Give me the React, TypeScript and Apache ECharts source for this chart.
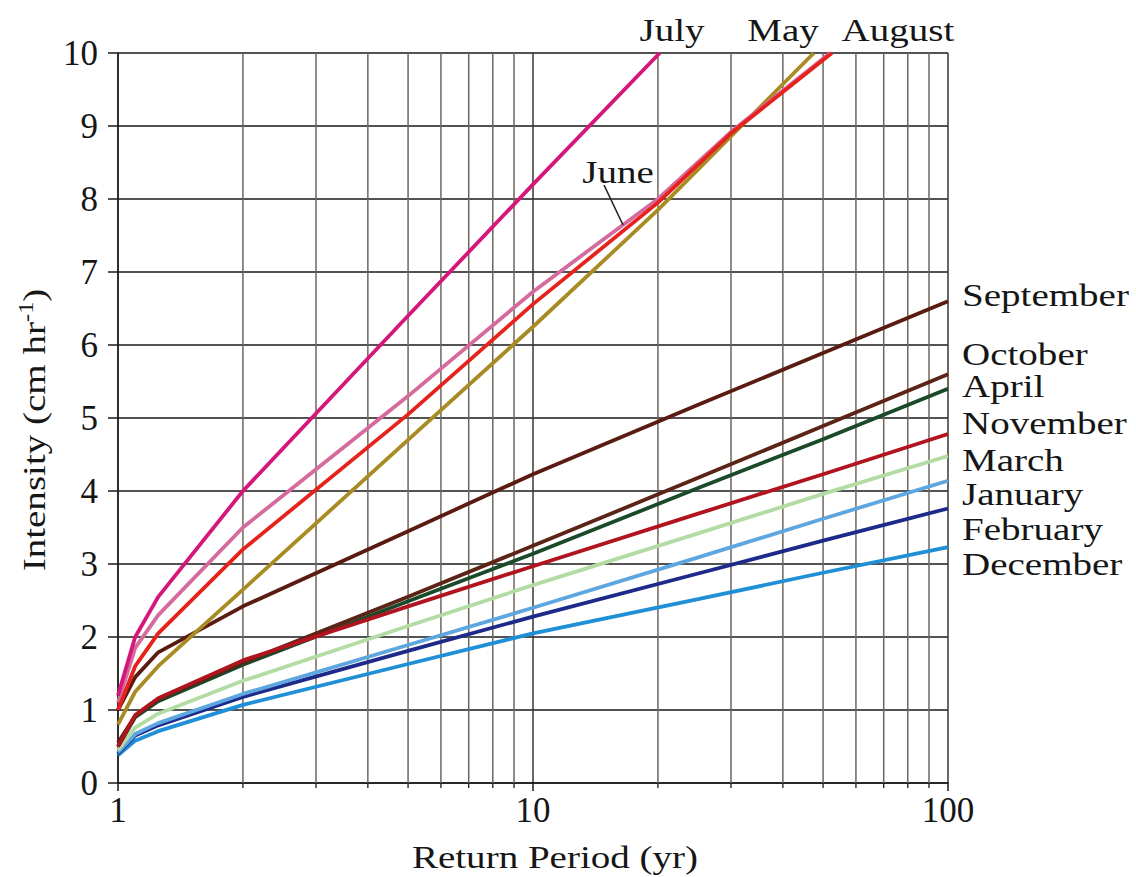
import React, { useEffect, useRef } from "react";
import * as echarts from "echarts";

// ---------- data ----------
const RETURN_PERIODS = [1, 1.1, 1.25, 2, 5, 10, 25, 50, 100];
const MINOR_TICKS = [2, 3, 4, 5, 6, 7, 8, 9, 20, 30, 40, 50, 60, 70, 80, 90];

const julyT = [1, 1.1, 1.25, 2, 5, 10, 20.2];
const julyV = [1.2, 2.0, 2.55, 4.0, 6.4, 8.2, 10.0];
const juneT = [1, 1.1, 1.25, 2, 5, 10, 20, 30, 52];
const juneV = [1.1, 1.85, 2.3, 3.5, 5.3, 6.73, 8.0, 8.92, 10.0];
const augustT = [1, 1.1, 1.25, 2, 5, 10, 20, 30, 52.5];
const augustV = [1.0, 1.6, 2.05, 3.2, 5.05, 6.56, 7.95, 8.9, 10.0];
const mayT = [1, 1.1, 1.25, 2, 5, 10, 20, 47.5];
const mayV = [0.8, 1.25, 1.6, 2.65, 4.7, 6.25, 7.85, 10.0];

const septemberV = [1.0, 1.45, 1.79, 2.42, 3.45, 4.23, 5.18, 5.89, 6.6];
const octoberV = [0.55, 0.92, 1.15, 1.65, 2.55, 3.25, 4.18, 4.89, 5.6];
const aprilV = [0.5, 0.9, 1.12, 1.62, 2.49, 3.14, 4.04, 4.71, 5.4];
const novemberV = [0.5, 0.93, 1.16, 1.68, 2.42, 2.97, 3.69, 4.23, 4.78];
const marchV = [0.45, 0.76, 0.95, 1.4, 2.15, 2.71, 3.42, 3.96, 4.48];
const januaryV = [0.42, 0.67, 0.82, 1.22, 1.89, 2.4, 3.09, 3.62, 4.14];
const februaryV = [0.4, 0.65, 0.79, 1.18, 1.81, 2.28, 2.87, 3.32, 3.76];
const decemberV = [0.38, 0.58, 0.71, 1.07, 1.63, 2.05, 2.52, 2.88, 3.23];

// ---------- styling ----------
const FONT = "'Liberation Serif', 'Times New Roman', serif";
const TEXT_COLOR = "#161616";
const STRETCH = 1.22;
const FS = 32;

const pairs = (t: number[], v: number[]) => t.map((x, i) => [x, v[i]]);

const seriesDefs = [
  { name: "December", color: "#1f8fd6", t: RETURN_PERIODS, v: decemberV },
  { name: "February", color: "#1d2a8a", t: RETURN_PERIODS, v: februaryV },
  { name: "January", color: "#5ea6df", t: RETURN_PERIODS, v: januaryV },
  { name: "March", color: "#b3dca4", t: RETURN_PERIODS, v: marchV },
  { name: "April", color: "#1a4a2a", t: RETURN_PERIODS, v: aprilV },
  { name: "October", color: "#5b2416", t: RETURN_PERIODS, v: octoberV },
  { name: "November", color: "#b2141f", t: RETURN_PERIODS, v: novemberV },
  { name: "September", color: "#5a1c12", t: RETURN_PERIODS, v: septemberV },
  { name: "May", color: "#a88b22", t: mayT, v: mayV },
  { name: "June", color: "#d56a9c", t: juneT, v: juneV },
  { name: "August", color: "#e5221c", t: augustT, v: augustV },
  { name: "July", color: "#d5177c", t: julyT, v: julyV },
];

const rightLabels: [string, number][] = [
  ["September", 295],
  ["October", 354],
  ["April", 386],
  ["November", 423],
  ["March", 460],
  ["January", 494],
  ["February", 529],
  ["December", 564],
];
const topLabels: [string, number][] = [
  ["July", 672],
  ["May", 783],
  ["August", 898],
];

function label(text: string, x: number, y: number, align: string) {
  return {
    type: "text",
    x,
    y,
    scaleX: STRETCH,
    silent: true,
    style: {
      text,
      fontFamily: FONT,
      fontSize: FS,
      fill: TEXT_COLOR,
      align,
      verticalAlign: "middle",
    },
  };
}

export default function App() {
  const ref = useRef<HTMLDivElement>(null);

  useEffect(() => {
    const chart = echarts.init(ref.current!, null, { renderer: "svg" });

    const lineSeries = seriesDefs.map((s) => ({
      name: s.name,
      type: "line",
      data: pairs(s.t, s.v),
      symbol: "none",
      smooth: false,
      clip: true,
      z: 3,
      lineStyle: { color: s.color, width: 3.8 },
      itemStyle: { color: s.color },
    }));

    const graphics: any[] = [
      ...rightLabels.map(([t, y]) => label(t, 962, y, "left")),
      ...topLabels.map(([t, x]) => label(t, x, 30, "center")),
      label("June", 618, 172, "center"),
      {
        type: "line",
        silent: true,
        shape: { x1: 604, y1: 185, x2: 623, y2: 225 },
        style: { stroke: "#222", lineWidth: 1.6 },
        z: 10,
      },
      label("Return Period (yr)", 555, 857, "center"),
      {
        type: "text",
        x: 34,
        y: 430,
        rotation: Math.PI / 2,
        scaleX: STRETCH,
        silent: true,
        style: {
          text: "{a|Intensity (cm hr}{s|-1}{a|)}",
          align: "center",
          verticalAlign: "middle",
          fill: TEXT_COLOR,
          rich: {
            a: { fontFamily: FONT, fontSize: FS, fill: TEXT_COLOR, lineHeight: 36 },
            s: { fontFamily: FONT, fontSize: 20, fill: TEXT_COLOR, verticalAlign: "top", lineHeight: 20 },
          },
        },
      },
    ];

    chart.setOption({
      animation: false,
      backgroundColor: "#ffffff",
      grid: { left: 118, right: 188, top: 53, bottom: 94, containLabel: false },
      xAxis: {
        type: "log",
        logBase: 10,
        min: 1,
        max: 100,
        axisLine: { show: true, lineStyle: { color: "#1a1a1a", width: 1.5 } },
        axisTick: { show: true, inside: false, length: 8, lineStyle: { color: "#1a1a1a", width: 1.5 } },
        axisLabel: {
          fontFamily: FONT,
          fontSize: 35,
          color: TEXT_COLOR,
          margin: 10,
        },
        splitLine: { show: true, lineStyle: { color: "#3a3631", width: 1.5 } },
      },
      yAxis: {
        type: "value",
        min: 0,
        max: 10,
        interval: 1,
        axisLine: { show: true, lineStyle: { color: "#1a1a1a", width: 1.5 } },
        axisTick: { show: true, inside: false, length: 10, lineStyle: { color: "#1a1a1a", width: 1.5 } },
        axisLabel: {
          fontFamily: FONT,
          fontSize: 35,
          color: TEXT_COLOR,
          margin: 20,
        },
        splitLine: { show: true, lineStyle: { color: "#1a1a1a", width: 1.5 } },
      },
      series: [
        {
          type: "custom",
          name: "minor grid",
          silent: true,
          z: 1,
          clip: false,
          data: MINOR_TICKS.map((t) => [t, 0]),
          encode: { x: 0, y: 1 },
          renderItem: (params: any, api: any) => {
            const x = api.value(0);
            const p0 = api.coord([x, 0]);
            const p1 = api.coord([x, 10]);
            return {
              type: "group",
              children: [
                {
                  type: "line",
                  shape: { x1: p0[0], y1: p1[1], x2: p0[0], y2: p0[1] },
                  style: { stroke: "#6e665c", lineWidth: 1.5 },
                },
                {
                  type: "line",
                  shape: { x1: p0[0], y1: p0[1], x2: p0[0], y2: p0[1] + 5 },
                  style: { stroke: "#1a1a1a", lineWidth: 1.3 },
                },
              ],
            };
          },
        },
        ...lineSeries,
      ],
      graphic: graphics,
    });

    return () => chart.dispose();
  }, []);

  return (
    <div
      ref={ref}
      style={{ position: "fixed", left: 0, top: 0, width: 1136, height: 877, background: "#fff" }}
    />
  );
}
